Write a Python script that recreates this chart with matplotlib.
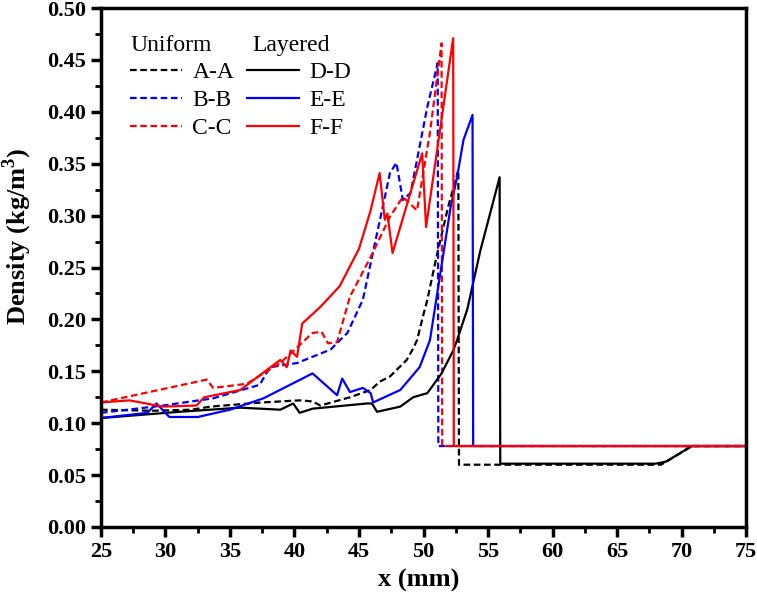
import matplotlib
matplotlib.use("Agg")
from matplotlib import pyplot as plt
from matplotlib.ticker import MultipleLocator

plt.rcParams['font.family'] = ['Liberation Serif', 'DejaVu Serif']
plt.rcParams['mathtext.fontset'] = 'custom'
plt.rcParams['mathtext.rm'] = 'Liberation Serif'
plt.rcParams['mathtext.bf'] = 'Liberation Serif:bold'

# A-A (uniform, black dashed)
aa_x = [25, 29.0, 32.0, 33.5, 37.5, 40.4, 41.4, 42.0, 44.3, 45.9, 46.6, 47.4, 48.7, 49.2,
        49.5, 50.0, 50.3, 51.0, 51.9, 52.7, 52.75, 56, 68.4, 69.5, 70.8, 75]
aa_y = [0.113, 0.112, 0.113, 0.116, 0.120, 0.122, 0.121, 0.117, 0.125, 0.132, 0.140, 0.145,
        0.161, 0.172, 0.180, 0.205, 0.219, 0.260, 0.308, 0.344, 0.060, 0.060, 0.060, 0.068,
        0.078, 0.078]

# B-B (uniform, blue dashed)
bb_x = [25, 29.8, 33.7, 37.3, 38.1, 40.2, 42.8, 44.1, 45.3, 46.4, 47.4, 47.9, 48.4,
        49.0, 50.3, 51.1, 51.15, 75]
bb_y = [0.110, 0.117, 0.124, 0.137, 0.154, 0.158, 0.171, 0.187, 0.219, 0.283, 0.341, 0.351,
        0.315, 0.322, 0.405, 0.447, 0.078, 0.078]

# C-C (uniform, red dashed)
cc_x = [25, 33.2, 33.7, 36.3, 38.9, 40.2, 41.4, 42.1, 42.6, 43.3, 44.3, 45.9, 47.4,
        48.4, 49.5, 50.5, 51.4, 51.45, 75]
cc_y = [0.120, 0.142, 0.134, 0.138, 0.158, 0.173, 0.187, 0.188, 0.177, 0.178, 0.222, 0.260,
        0.299, 0.318, 0.305, 0.380, 0.466, 0.078, 0.078]

# D-D (layered, black solid)
dd_x = [25, 31.1, 35.8, 38.9, 39.9, 40.4, 41.4, 45.6, 46.0, 46.4, 48.2, 49.2, 50.3,
        51.4, 52.3, 52.6, 53.4, 54.4, 55.9, 55.95, 68.0, 68.8, 70.0, 70.8, 75]
dd_y = [0.105, 0.111, 0.115, 0.113, 0.119, 0.110, 0.114, 0.119, 0.119, 0.111, 0.116, 0.125,
        0.129, 0.148, 0.170, 0.180, 0.210, 0.266, 0.337, 0.061, 0.061, 0.063, 0.072, 0.078,
        0.078]

# E-E (layered, blue solid)
ee_x = [25, 28.6, 29.3, 30.3, 32.5, 35.0, 37.6, 41.4, 43.3, 43.7, 44.3, 45.3, 45.9,
        46.1, 48.2, 49.7, 50.5, 51.1, 52.1, 52.6, 53.1, 53.8, 53.85, 75]
ee_y = [0.105, 0.110, 0.119, 0.106, 0.106, 0.113, 0.124, 0.148, 0.127, 0.143, 0.130, 0.134,
        0.129, 0.120, 0.132, 0.154, 0.180, 0.228, 0.308, 0.337, 0.373, 0.397, 0.078, 0.078]

# F-F (layered, red solid)
ff_x = [25, 27.2, 29.8, 32.4, 33.0, 35.8, 38.9, 39.4, 39.7, 40.2, 40.6, 42.0, 43.5, 45.0,
        45.9, 46.6, 47.0, 47.2, 47.6, 49.9, 50.2, 52.3, 52.35, 75]
ff_y = [0.120, 0.122, 0.116, 0.117, 0.125, 0.132, 0.161, 0.154, 0.170, 0.164, 0.196, 0.212,
        0.232, 0.268, 0.305, 0.341, 0.296, 0.302, 0.264, 0.360, 0.289, 0.471, 0.078, 0.078]

fig = plt.figure(figsize=(7.57, 6.02), dpi=100)
ax = fig.add_axes([0.1334, 0.1246, 0.8521, 0.862])

dash = (0, (3, 1.6))
lw = 1.6
ax.plot(aa_x, aa_y, color='black', ls=dash, lw=lw, label='A-A')
ax.plot(bb_x, bb_y, color='blue', ls=dash, lw=lw, label='B-B')
ax.plot(cc_x, cc_y, color='red', ls=dash, lw=lw, label='C-C')
ax.plot(dd_x, dd_y, color='black', lw=lw, label='D-D')
ax.plot(ee_x, ee_y, color='blue', lw=lw, label='E-E')
ax.plot(ff_x, ff_y, color='red', lw=lw, label='F-F')

ax.set_xlim(25, 75)
ax.set_ylim(0, 0.5)
ax.xaxis.set_major_locator(MultipleLocator(5))
ax.xaxis.set_minor_locator(MultipleLocator(2.5))
ax.yaxis.set_major_locator(MultipleLocator(0.05))
ax.yaxis.set_minor_locator(MultipleLocator(0.025))
ax.yaxis.set_major_formatter(plt.FormatStrFormatter('%.2f'))

for s in ax.spines.values():
    s.set_linewidth(2.5)
ax.tick_params(which='major', direction='out', length=7, width=2.5, labelsize=16, pad=4)
ax.tick_params(which='minor', direction='out', length=4, width=2)
for lab in ax.get_xticklabels() + ax.get_yticklabels():
    lab.set_fontweight('bold')

ax.set_xlabel('x (mm)', fontsize=19, fontweight='bold')
ax.set_ylabel(r'Density (kg/m$^\mathbf{3}$)', fontsize=19, fontweight='bold')
ax.xaxis.set_label_coords(0.493, -0.08)
ax.yaxis.set_label_coords(-0.104, 0.56)

ax.legend(ncol=2, frameon=False, fontsize=17, loc='upper left',
          bbox_to_anchor=(0.03, 0.915), handlelength=2.2, handletextpad=0.45,
          columnspacing=0.55, labelspacing=0.28, borderaxespad=0)
ax.text(0.045, 0.927, 'Uniform', transform=ax.transAxes, fontsize=17, va='center')
ax.text(0.234, 0.927, 'Layered', transform=ax.transAxes, fontsize=17, va='center')

fig.savefig('out.png', dpi=100)
